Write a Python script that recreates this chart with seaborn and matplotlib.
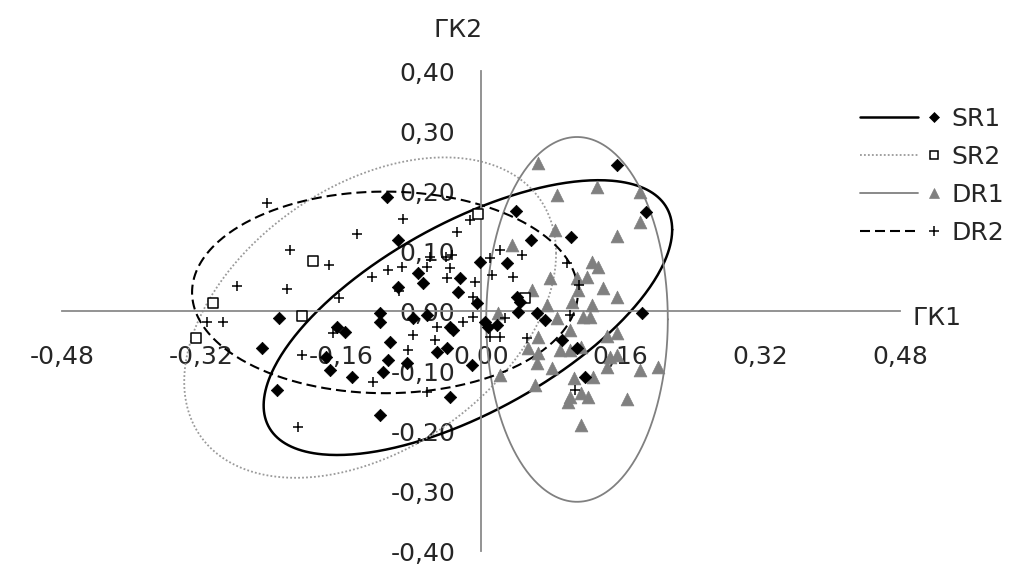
import numpy as np
import matplotlib
matplotlib.use("Agg")
import matplotlib.pyplot as plt
import matplotlib.ticker as mtick
from matplotlib.lines import Line2D
from matplotlib.legend_handler import HandlerBase
import seaborn as sns

# scores on the first two principal components (ГК1, ГК2)
SR1_X = [-0.108, -0.095, -0.072, -0.067, -0.095, -0.024, -0.026, -0.001, -0.005,
         -0.231, -0.251, -0.234, -0.165, -0.156, -0.177, -0.173, -0.148, -0.116,
         -0.116, -0.104, -0.107, -0.112, -0.085, -0.062, -0.078, -0.036, -0.032,
         -0.050, -0.039, -0.010, -0.036, -0.116, 0.156, 0.189, 0.040, 0.057,
         0.103, 0.030, 0.041, 0.045, 0.042, 0.064, 0.073, 0.185, 0.093, 0.110,
         0.119, 0.018, 0.005, 0.008]
SR1_Y = [0.190, 0.118, 0.063, 0.047, 0.040, 0.055, 0.032, 0.082, 0.013,
         -0.012, -0.062, -0.132, -0.027, -0.035, -0.077, -0.098, -0.110, -0.003,
         -0.018, -0.052, -0.082, -0.102, -0.087, -0.007, -0.012, -0.027, -0.032,
         -0.068, -0.062, -0.090, -0.143, -0.173, 0.243, 0.165, 0.167, 0.118,
         0.123, 0.080, 0.023, 0.015, -0.002, -0.003, -0.015, -0.003, -0.048, -0.062,
         -0.110, -0.023, -0.018, -0.027]

SR2_X = [-0.307, -0.326, -0.193, -0.205, -0.003, 0.050]
SR2_Y = [0.013, -0.045, 0.083, -0.008, 0.162, 0.022]

DR1_X = [0.065, 0.133, 0.182, 0.087, 0.182, 0.085, 0.156, 0.036, 0.127, 0.134,
         0.079, 0.110, 0.122, 0.058, 0.140, 0.156, 0.111, 0.076, 0.104, 0.127,
         0.019, 0.087, 0.117, 0.125, 0.102, 0.156, 0.144, 0.065, 0.054, 0.065,
         0.091, 0.102, 0.114, 0.148, 0.156, 0.064, 0.081, 0.144, 0.182, 0.203,
         0.022, 0.106, 0.128, 0.062, 0.102, 0.114, 0.123, 0.167, 0.100, 0.114]
DR1_Y = [0.247, 0.207, 0.198, 0.193, 0.148, 0.135, 0.125, 0.110, 0.082, 0.073,
         0.055, 0.055, 0.057, 0.035, 0.038, 0.023, 0.035, 0.010, 0.015, 0.010,
         -0.003, -0.012, -0.010, -0.010, -0.032, -0.037, -0.042, -0.043, -0.062, -0.070,
         -0.065, -0.065, -0.060, -0.077, -0.073, -0.087, -0.095, -0.093, -0.098, -0.093,
         -0.107, -0.112, -0.110, -0.123, -0.143, -0.137, -0.143, -0.147, -0.152, -0.190]

DR2_X = [-0.245, -0.219, -0.279, -0.222, -0.174, -0.142, -0.163, -0.089, -0.125,
         -0.107, -0.091, -0.062, -0.058, -0.040, -0.033, -0.028, -0.013, -0.039,
         -0.036, -0.007, 0.013, 0.010, 0.022, 0.047, 0.037, -0.094, -0.009,
         -0.314, -0.296, -0.205, -0.170, -0.124, -0.062, -0.078, -0.084, -0.050,
         -0.053, -0.021, -0.009, -0.210, 0.028, 0.010, 0.022, 0.053, 0.099,
         0.112, 0.102, 0.108]
DR2_Y = [0.180, 0.102, 0.042, 0.037, 0.077, 0.128, 0.022, 0.153, 0.057,
         0.068, 0.073, 0.073, 0.090, 0.090, 0.093, 0.132, 0.152, 0.055,
         0.072, 0.048, 0.060, 0.088, 0.102, 0.093, 0.057, 0.033, 0.023,
         -0.018, -0.018, -0.073, -0.037, -0.118, -0.135, -0.040, -0.065, -0.027,
         -0.048, -0.018, -0.010, -0.193, -0.012, -0.043, -0.043, -0.045, 0.080,
         0.043, -0.007, -0.132]

# scatter ellipses: centre, half extent along each axis, tilt (correlation)
ELL_NAMES = ["SR1", "SR2", "DR1", "DR2"]
ELL_CX = [-0.015, -0.127, 0.110, -0.110]
ELL_CY = [-0.011, -0.011, -0.014, 0.031]
ELL_HALF_W = [0.234, 0.213, 0.104, 0.221]
ELL_HALF_H = [0.229, 0.267, 0.304, 0.168]
ELL_RHO = [0.64, 0.40, 0.0, 0.0]

X_TICKS = [-0.48, -0.32, -0.16, 0.00, 0.16, 0.32, 0.48]
Y_TICKS = [-0.40, -0.30, -0.20, -0.10, 0.00, 0.10, 0.20, 0.30, 0.40]

GRAY = "#808080"
AXIS_GRAY = "#8a8a8a"

line_styles = {
    "SR1": dict(color="black", linestyle="-", linewidth=1.8),
    "SR2": dict(color="#9a9a9a", linestyle=(0, (1, 1.2)), linewidth=1.3),
    "DR1": dict(color=GRAY, linestyle="-", linewidth=1.3),
    "DR2": dict(color="black", linestyle=(0, (4.8, 2.4)), linewidth=1.5),
}
marker_styles = {
    "SR1": dict(marker="D", s=40, color="black", edgecolor="black", linewidth=0.5),
    "SR2": dict(marker="s", s=55, color="white", edgecolor="black", linewidth=1.1),
    "DR1": dict(marker="^", s=85, color=GRAY, edgecolor=GRAY, linewidth=0.5),
    "DR2": dict(marker="+", s=60, color="black", linewidth=1.1),
}
points = {"SR1": (SR1_X, SR1_Y), "SR2": (SR2_X, SR2_Y),
          "DR1": (DR1_X, DR1_Y), "DR2": (DR2_X, DR2_Y)}


class LineThenMarker(HandlerBase):
    """Legend entry: short line sample followed by the marker."""

    def create_artists(self, legend, orig_handle, xdescent, ydescent,
                       width, height, fontsize, trans):
        line, mark = orig_handle
        y = height / 2 - ydescent
        x0 = -xdescent
        ln = Line2D([], [])
        ln.update_from(line)
        ln.set_data([x0, x0 + 0.72 * width], [y, y])
        mk = Line2D([], [])
        mk.update_from(mark)
        mk.set_data([x0 + 0.92 * width], [y])
        for a in (ln, mk):
            a.set_transform(trans)
        return [ln, mk]


sns.set_style("white")
plt.rcParams["font.family"] = ["DejaVu Sans"]

fig = plt.figure(figsize=(10.16, 5.79), dpi=100)
ax = fig.add_axes([62 / 1016, 28 / 579, 838 / 1016, 480 / 579])

t = np.linspace(0, 2 * np.pi, 400)
for i, name in enumerate(ELL_NAMES):
    phi = np.arccos(ELL_RHO[i])
    ex = ELL_CX[i] + ELL_HALF_W[i] * np.cos(t)
    ey = ELL_CY[i] + ELL_HALF_H[i] * np.cos(t - phi)
    ax.plot(ex, ey, zorder=2, **line_styles[name])

for name in ["DR1", "SR2", "DR2", "SR1"]:
    xs, ys = points[name]
    sns.scatterplot(x=xs, y=ys, ax=ax, zorder=3, **marker_styles[name])

ax.set_xlim(-0.48, 0.48)
ax.set_ylim(-0.40, 0.40)
ax.set_xticks(X_TICKS)
ax.set_yticks(Y_TICKS)


def comma_fmt(v, pos):
    if abs(v) < 1e-9:
        v = 0.0
    return f"{v:.2f}".replace(".", ",")


ax.xaxis.set_major_formatter(mtick.FuncFormatter(comma_fmt))
ax.yaxis.set_major_formatter(mtick.FuncFormatter(comma_fmt))

for side in ["top", "right"]:
    ax.spines[side].set_visible(False)
for side in ["left", "bottom"]:
    ax.spines[side].set_position(("data", 0))
    ax.spines[side].set_color(AXIS_GRAY)
    ax.spines[side].set_linewidth(1.3)
ax.tick_params(axis="x", direction="out", length=5.5, width=1.2, color=AXIS_GRAY,
               labelsize=18, pad=19)
ax.tick_params(axis="y", direction="out", length=5.5, width=1.2, color=AXIS_GRAY,
               labelsize=18, pad=13)
ax.set_xlabel("")
ax.set_ylabel("")

ax.annotate("ГК2", xy=(0, 0.40), xytext=(1, 21), textcoords="offset points",
            ha="right", va="bottom", fontsize=18)
ax.annotate("ГК1", xy=(0.48, 0), xytext=(9, -5), textcoords="offset points",
            ha="left", va="center", fontsize=18)

handles = []
for name in ELL_NAMES:
    ln = Line2D([], [], **line_styles[name])
    ms = marker_styles[name]
    mk = Line2D([], [], linestyle="none", marker=ms["marker"],
                markersize=np.sqrt(ms["s"]) * 0.85,
                markerfacecolor=ms["color"] if ms["marker"] != "+" else "black",
                markeredgecolor=ms.get("edgecolor", "black"),
                markeredgewidth=ms["linewidth"] if ms["marker"] in "+s" else 0.5)
    handles.append((ln, mk))

fig.legend(handles, ELL_NAMES, handler_map={tuple: LineThenMarker()},
           loc="upper left", bbox_to_anchor=(860 / 1016, 1 - 107 / 579),
           frameon=False, fontsize=18, handlelength=3.2, handletextpad=0.45,
           labelspacing=0.56, borderpad=0, borderaxespad=0)

fig.savefig("out.png", dpi=100)
